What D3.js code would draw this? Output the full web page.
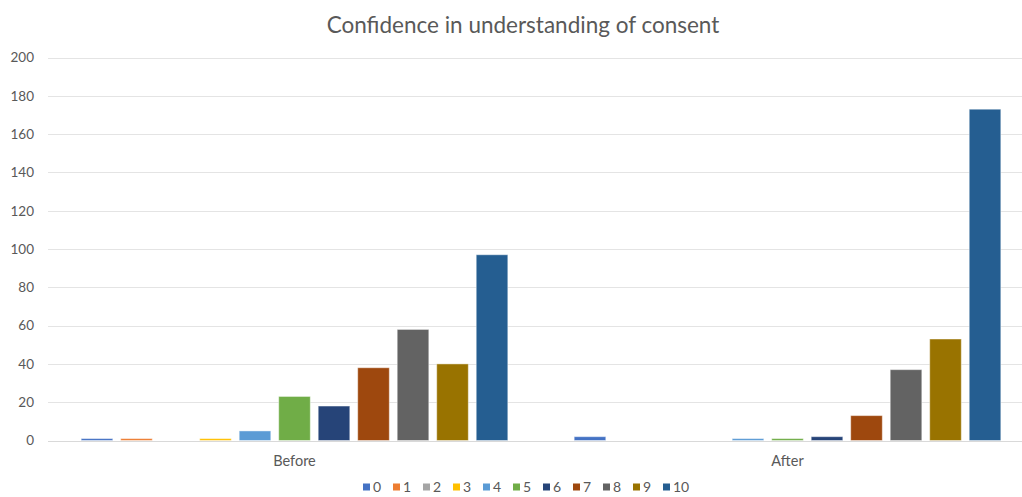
<!DOCTYPE html>
<html>
<head>
<meta charset="utf-8">
<script src="https://cdn.jsdelivr.net/npm/d3@7"></script>
<style>
  html, body { margin: 0; padding: 0; background: #fff; }
  svg { display: block; font-family: "Lato", "Open Sans", sans-serif; }
</style>
</head>
<body>
<svg id="chart" width="1022" height="497"></svg>
<script>
// Survey responses: confidence rating (0–10) before and after
const categories = ["Before", "After"];
const ratings = ["0", "1", "2", "3", "4", "5", "6", "7", "8", "9", "10"];
const beforeCounts = [1, 1, 0, 1, 5, 23, 18, 38, 58, 40, 97];
const afterCounts = [2, 0, 0, 0, 1, 1, 2, 13, 37, 53, 173];
const yTicks = [0, 20, 40, 60, 80, 100, 120, 140, 160, 180, 200];
const palette = ["#4472C4", "#ED7D31", "#A5A5A5", "#FFC000", "#5B9BD5", "#70AD47",
                 "#264478", "#9E480E", "#636363", "#997300", "#255E91"];

const seriesByCategory = { Before: beforeCounts, After: afterCounts };

const svg = d3.select("#chart");
const margin = { left: 48, right: -12, top: 57.5, bottom: 56.5 };
const W = 1022, H = 497;

const y = d3.scaleLinear().domain([0, 200]).range([H - margin.bottom, margin.top]);
const x0 = d3.scaleBand().domain(categories).range([margin.left, W - margin.right]).padding(0);
const x1 = d3.scaleBand().domain(ratings).range([0, x0.bandwidth()])
  .paddingInner(0.2).paddingOuter(0.84);
const color = d3.scaleOrdinal().domain(ratings).range(palette);

// Title
svg.append("text")
  .attr("x", 523).attr("y", 33)
  .attr("text-anchor", "middle")
  .attr("font-size", 22.5)
  .attr("fill", "#595959")
  .text("Confidence in understanding of consent");

// Horizontal gridlines
svg.append("g").selectAll("line").data(yTicks).join("line")
  .attr("x1", margin.left).attr("x2", W)
  .attr("y1", d => Math.round(y(d)) + 0.5).attr("y2", d => Math.round(y(d)) + 0.5)
  .attr("stroke", d => d === 0 ? "#d9d9d9" : "#e4e4e4")
  .attr("stroke-width", 1);

// Y axis labels
const yAxis = d3.axisLeft(y).tickValues(yTicks).tickSize(0).tickPadding(0);
const gy = svg.append("g").attr("transform", `translate(34,0)`).call(yAxis);
gy.select(".domain").remove();
gy.selectAll("text")
  .attr("font-size", 13.5).attr("fill", "#595959")
  .attr("font-family", "Lato, 'Open Sans', sans-serif");

// Bars
const groups = svg.append("g").selectAll("g").data(categories).join("g")
  .attr("transform", d => `translate(${x0(d)},0)`);
groups.selectAll("rect")
  .data(cat => ratings.map((r, i) => ({ r, v: seriesByCategory[cat][i] })))
  .join("rect")
  .attr("x", d => x1(d.r))
  .attr("width", x1.bandwidth())
  .attr("y", d => y(d.v))
  .attr("height", d => y(0) - y(d.v))
  .attr("fill", d => color(d.r))
  .attr("stroke", "#ffffff")
  .attr("stroke-opacity", 0.45)
  .attr("stroke-width", 1);

// Category labels
const xAxis = d3.axisBottom(x0).tickSize(0).tickPadding(0);
const gx = svg.append("g").attr("transform", `translate(0,${y(0) + 25})`).call(xAxis);
gx.select(".domain").remove();
gx.selectAll("text")
  .attr("font-size", 14.5).attr("fill", "#595959")
  .attr("dy", 0)
  .attr("font-family", "Lato, 'Open Sans', sans-serif");

// Legend
const legend = svg.append("g").attr("transform", "translate(363,492)");
const item = legend.selectAll("g").data(ratings).join("g")
  .attr("transform", (d, i) => `translate(${i * 30},0)`);
item.append("rect")
  .attr("x", 0).attr("y", -8.5).attr("width", 7).attr("height", 7)
  .attr("fill", d => color(d));
item.append("text")
  .attr("x", 10).attr("y", 0)
  .attr("font-size", 14).attr("fill", "#595959")
  .text(d => d);
</script>
</body>
</html>
